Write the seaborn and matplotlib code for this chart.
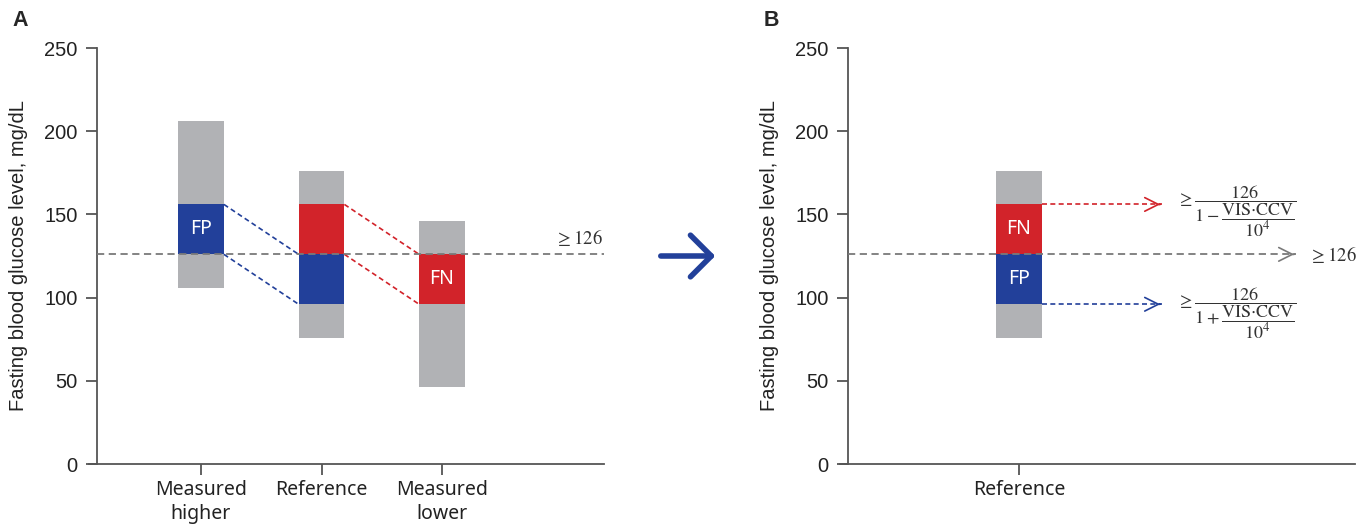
import matplotlib
matplotlib.use("Agg")
import matplotlib.pyplot as plt
import seaborn as sns
from matplotlib.patches import FancyArrowPatch

# ---------------- data ----------------
categories_a = ["Measured\nhigher", "Reference", "Measured\nlower"]
range_low_a = [106, 76, 46]
range_high_a = [206, 176, 146]
threshold = 126
seg_cat_a = [0, 1, 1, 2]
seg_low_a = [126, 126, 96, 96]
seg_high_a = [156, 156, 126, 126]
seg_kind_a = ["blue", "red", "blue", "red"]
seg_label_a = ["FP", "", "", "FN"]
links_a = [(0, 2), (1, 3)]  # segment index pairs joined by dashed lines

categories_b = ["Reference"]
range_low_b = [76]
range_high_b = [176]
seg_low_b = [126, 96]
seg_high_b = [156, 126]
seg_kind_b = ["red", "blue"]
seg_label_b = ["FN", "FP"]
yticks = [0, 50, 100, 150, 200, 250]

# ---------------- style ----------------
sns.set_theme(style="white")
plt.rcParams["font.family"] = ["Liberation Sans", "DejaVu Sans"]
plt.rcParams["mathtext.fontset"] = "stix"

COL = {"gray": "#b1b2b5", "blue": "#22409a", "red": "#d2232a"}
AX_COL = "#555555"
DASH_GRAY = "#7a7a7a"
W, H = 1367, 529
BW = 0.38
UNIT = 120.5  # px per category

fig = plt.figure(figsize=(W / 100, H / 100), dpi=100)


def make_axes(left_px, right_px, center_px, yaxis_px):
    ax = fig.add_axes([left_px / W, (H - 464) / H, (right_px - left_px) / W, (464 - 48) / H])
    ax.set_xlim((left_px - center_px) / UNIT, (right_px - center_px) / UNIT)
    ax.set_ylim(0, 250)
    xs = (yaxis_px - center_px) / UNIT
    for s in ["top", "right"]:
        ax.spines[s].set_visible(False)
    for s in ["left", "bottom"]:
        ax.spines[s].set_color(AX_COL)
        ax.spines[s].set_linewidth(1.3)
    ax.spines["left"].set_position(("data", xs))
    ax.spines["left"].set_bounds(0, 250)
    ax.set_yticks(yticks)
    ax.tick_params(axis="both", direction="out", length=8, width=1.3, color=AX_COL,
                   left=True, bottom=True)
    ax.tick_params(axis="y", labelsize=14.5, pad=6, labelcolor="#222222")
    ax.set_ylabel("Fasting blood glucose level, mg/dL", fontsize=14.5, color="#222222", labelpad=12)
    return ax, xs


def draw_bars(ax, cats, lows, highs):
    xs = list(range(len(cats)))
    ax.bar(xs, [h - l for l, h in zip(lows, highs)], bottom=lows, width=BW,
           color=COL["gray"], linewidth=0, zorder=2)
    ax.set_xticks(xs)
    ax.set_xticklabels(cats, fontsize=14, family=["Noto Sans", "DejaVu Sans"],
                       color="#222222", linespacing=1.25)


# ---------------- panel A ----------------
axA, xsA = make_axes(89, 604, 201, 97)
draw_bars(axA, categories_a, range_low_a, range_high_a)
axA.bar(seg_cat_a, [h - l for l, h in zip(seg_low_a, seg_high_a)], bottom=seg_low_a,
        width=BW, color=[COL[k] for k in seg_kind_a], linewidth=0, zorder=3)
for c, l, h, lab in zip(seg_cat_a, seg_low_a, seg_high_a, seg_label_a):
    if lab:
        axA.text(c, (l + h) / 2, lab, color="white", ha="center", va="center",
                 fontsize=14, family=["Noto Sans", "DejaVu Sans"], zorder=5)
for i, j in links_a:
    col = COL[seg_kind_a[i]]
    x0 = seg_cat_a[i] + BW / 2
    x1 = seg_cat_a[j] - BW / 2
    for y0, y1 in [(seg_high_a[i], seg_high_a[j]), (seg_low_a[i], seg_low_a[j])]:
        sns.lineplot(x=[x0, x1], y=[y0, y1], ax=axA, color=col, lw=1.2,
                     dashes=False, zorder=4, estimator=None, sort=False)
        axA.lines[-1].set_dashes((3, 2))
axA.plot([xsA, axA.get_xlim()[1]], [threshold, threshold], color=DASH_GRAY, lw=1.3,
         dashes=(4, 2.5), zorder=4, clip_on=False)
axA.text(axA.get_xlim()[1] - 0.01, 136, r"$\geq 126$", ha="right", va="center",
         fontsize=13.5, color="#333333")

# ---------------- panel B ----------------
axB, xsB = make_axes(840, 1355, 1019, 848)
draw_bars(axB, categories_b, range_low_b, range_high_b)
axB.bar([0] * len(seg_low_b), [h - l for l, h in zip(seg_low_b, seg_high_b)], bottom=seg_low_b,
        width=BW, color=[COL[k] for k in seg_kind_b], linewidth=0, zorder=3)
for l, h, lab in zip(seg_low_b, seg_high_b, seg_label_b):
    axB.text(0, (l + h) / 2, lab, color="white", ha="center", va="center",
             fontsize=14, family=["Noto Sans", "DejaVu Sans"], zorder=5)


def dashed_arrow(ax, x0, x1, y, col, lw=1.2, dashes=(3, 2)):
    ax.plot([x0, x1 - 0.01], [y, y], color=col, lw=lw, dashes=dashes, zorder=4, clip_on=False)
    ax.annotate("", xy=(x1, y), xytext=(x1 - 0.05, y),
                arrowprops=dict(arrowstyle="->,head_length=0.7,head_width=0.35",
                                color=col, lw=1.2, mutation_scale=14),
                annotation_clip=False)


arrow_end_b = 1.195
dashed_arrow(axB, BW / 2, arrow_end_b, seg_high_b[0], COL["red"])
dashed_arrow(axB, BW / 2, arrow_end_b, seg_low_b[1], COL["blue"])
dashed_arrow(axB, xsB, 2.307, threshold, DASH_GRAY, lw=1.3, dashes=(4, 2.5))
axB.text(2.41, threshold, r"$\geq 126$", ha="left", va="center", fontsize=13.5, color="#333333")
axB.text(1.31, 151.5,
         r"$\geq\dfrac{126}{1-\dfrac{\mathrm{VIS{\cdot}CCV}}{10^4}}$",
         ha="left", va="center", fontsize=13, color="#333333")
axB.text(1.31, 90.5,
         r"$\geq\dfrac{126}{1+\dfrac{\mathrm{VIS{\cdot}CCV}}{10^4}}$",
         ha="left", va="center", fontsize=13, color="#333333")

# ---------------- panel letters & central arrow ----------------
fig.text(12 / W, 1 - 20 / H, "A", fontsize=15.5, fontweight="bold", va="center", ha="left")
fig.text(764 / W, 1 - 20 / H, "B", fontsize=15.5, fontweight="bold", va="center", ha="left")
arr = FancyArrowPatch((658 / W, 1 - 256 / H), (718 / W, 1 - 256 / H),
                      transform=fig.transFigure,
                      arrowstyle="->,head_length=0.75,head_width=0.75",
                      mutation_scale=20, lw=4, color=COL["blue"])
fig.patches.append(arr)

fig.savefig("out.png", dpi=100)
